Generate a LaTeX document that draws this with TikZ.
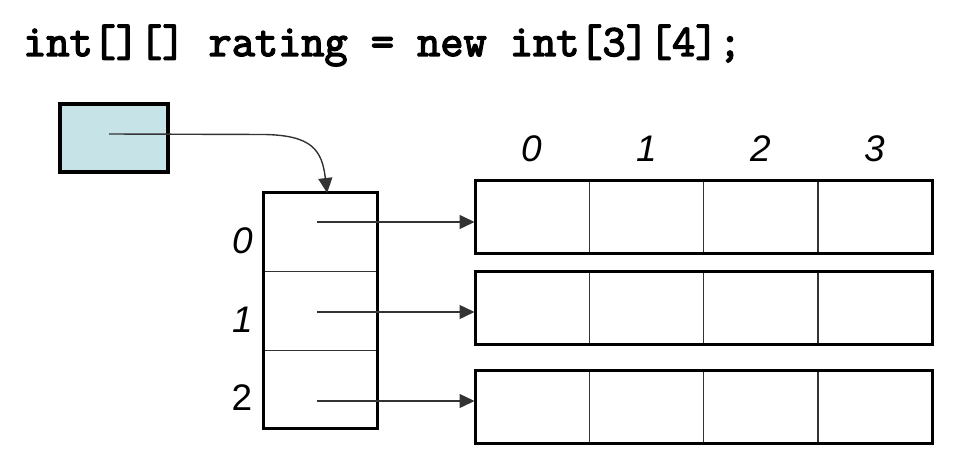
\documentclass[tikz,border=0pt]{standalone}
\usepackage{fontspec}
\setmainfont{Liberation Sans}
\newfontfamily\codefont{Latin Modern Mono}[FakeBold=3.2]
\usetikzlibrary{arrows.meta}
\definecolor{ptrfill}{HTML}{C6E4E8}
\definecolor{linegray}{HTML}{333333}
\tikzset{
  ptrbox/.style={draw=black, line width=4pt, fill=ptrfill, minimum width=108pt, minimum height=68pt, inner sep=0pt},
  outerbox/.style={draw=black, line width=3pt, inner sep=0pt},
  cellbox/.style={draw=none, inner sep=0pt},
  divider/.style={draw=linegray, line width=1.3pt},
  refarrow/.style={draw=linegray, line width=1.4pt, -{Triangle[length=15pt,width=14pt]}, shorten >=-1pt},
  idx/.style={font=\fontsize{37}{37}\selectfont\itshape, inner sep=0pt},
  idxup/.style={font=\fontsize{37}{37}\selectfont, inner sep=0pt}
}
\begin{document}
\begin{tikzpicture}[x=1pt,y=-1pt]
\useasboundingbox (0,0) rectangle (958,460);
% title
\node[anchor=base west, inner sep=0pt, font=\codefont\fontsize{45}{45}\selectfont] (title) at (23,56) {int[][] rating = new int[3][4];};
% pointer box
\node[ptrbox] (ptr) at (114,138) {};
% column array (outer)
\node[outerbox, minimum width=114pt, minimum height=236pt] (col) at (320,310) {};
\node[cellbox, minimum width=114pt, minimum height=79pt] (c0) at (320,231.5) {};
\node[cellbox, minimum width=114pt, minimum height=79pt] (c1) at (320,310.5) {};
\node[cellbox, minimum width=114pt, minimum height=78pt] (c2) at (320,389) {};
\draw[divider] (c0.south west) -- (c0.south east);
\draw[divider] (c1.south west) -- (c1.south east);
\node[outerbox, minimum width=114pt, minimum height=236pt] at (320,310) {};
% row labels
\node[idx] (l0) at (243,241) {0};
\node[idx] (l1) at (243,320) {1};
\node[idxup] (l2) at (242,398) {2};
% column labels
\node[idx] (h0) at (532,149) {0};
\node[idx] (h1) at (647,149) {1};
\node[idx] (h2) at (761,149) {2};
\node[idx] (h3) at (875,149) {3};
% row arrays
\foreach \r/\y in {0/216.5, 1/308, 2/407} {
  \node[outerbox, minimum width=457pt, minimum height=73pt] (r\r) at (703.5,\y) {};
  \foreach \c in {0,1,2,3} {
    \node[cellbox, minimum width=114.25pt, minimum height=73pt] (r\r\c) at ({475+114.25*\c+57.125},\y) {};
  }
  \foreach \c in {0,1,2} {
    \draw[divider] (r\r\c.north east) -- (r\r\c.south east);
  }
  \node[outerbox, minimum width=457pt, minimum height=73pt] at (703.5,\y) {};
}
% arrow start points
\coordinate (s0) at (317,222);
\coordinate (s1) at (317,312);
\coordinate (s2) at (317,401);
\coordinate (p0) at (109,134);
\coordinate (pend) at (327,192);
\draw[refarrow] (s0) -- (s0 -| r0.west);
\draw[refarrow] (s1) -- (s1 -| r1.west);
\draw[refarrow] (s2) -- (s2 -| r2.west);
% curved pointer arrow
\draw[refarrow] (p0) -- (265,134.5) .. controls (312,135.5) and (322,150) .. (pend);
\end{tikzpicture}
\end{document}
